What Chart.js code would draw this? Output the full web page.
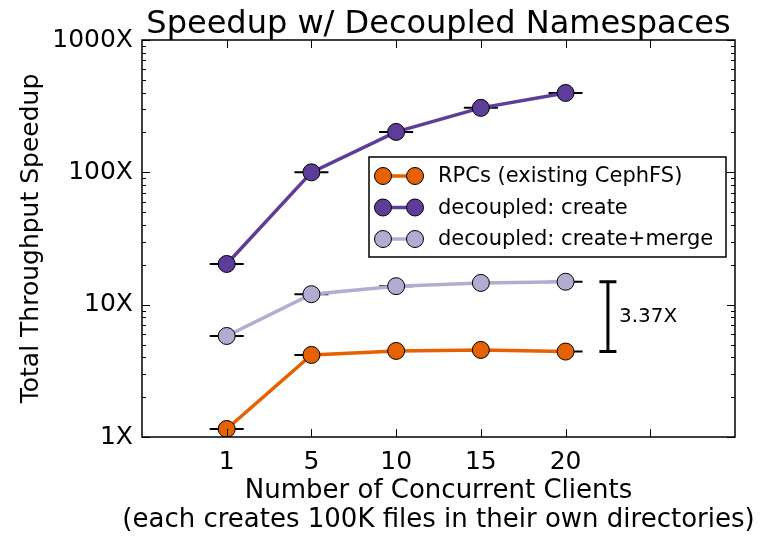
<!DOCTYPE html>
<html>
<head>
<meta charset="utf-8">
<script src="https://cdn.jsdelivr.net/npm/chart.js@4/dist/chart.umd.min.js"></script>
<style>
  html, body { margin: 0; padding: 0; background: #fff; }
  #wrap { width: 765px; height: 536px; }
</style>
</head>
<body>
<div id="wrap"><canvas id="chart"></canvas></div>
<script>
// clients (x categories) and speedups
const clients   = ['1', '5', '10', '15', '20'];
const rpcs      = [1.15, 4.17, 4.47, 4.55, 4.42];
const create    = [20.3, 100, 202, 307, 398];
const merge     = [5.8, 12.0, 13.8, 14.6, 14.9];
const yTicks    = [1, 10, 100, 1000];
const gapLabel  = '3.37X';
const titleText = 'Speedup w/ Decoupled Namespaces';
const xTitle    = 'Number of Concurrent Clients';
const xSubtitle = '(each creates 100K files in their own directories)';

const FONT = "'DejaVu Sans', sans-serif";
const toPts = arr => arr.map((v, i) => ({ x: i, y: v }));

function series(label, data, color) {
  return {
    label, data: toPts(data),
    borderColor: color, backgroundColor: color,
    borderWidth: 3.5,
    pointRadius: 8.5, pointHoverRadius: 8.5,
    pointBackgroundColor: color, pointBorderColor: '#000', pointBorderWidth: 1,
    tension: 0
  };
}

// horizontal caps behind every point (error bar caps)
const capsPlugin = {
  id: 'caps',
  beforeDatasetsDraw(chart) {
    const { ctx } = chart;
    ctx.save();
    ctx.strokeStyle = '#000';
    ctx.lineWidth = 2;
    chart.data.datasets.forEach((ds, di) => {
      chart.getDatasetMeta(di).data.forEach(pt => {
        ctx.beginPath();
        ctx.moveTo(pt.x - 17, pt.y);
        ctx.lineTo(pt.x + 17, pt.y);
        ctx.stroke();
      });
    });
    ctx.restore();
  }
};

// titles, frame, inward ticks, legend, gap bracket
const decorPlugin = {
  id: 'decor',
  afterDraw(chart) {
    const { ctx, chartArea: a, scales: { x, y } } = chart;
    const cx = (a.left + a.right) / 2;
    ctx.save();

    ctx.fillStyle = '#000';
    ctx.textAlign = 'center';
    ctx.textBaseline = 'alphabetic';
    ctx.font = '32px ' + FONT;
    ctx.fillText(titleText, cx, 33);
    ctx.font = '26px ' + FONT;
    ctx.fillText(xTitle, cx, 498);
    ctx.fillText(xSubtitle, cx, 527);

    ctx.strokeStyle = '#000';
    ctx.lineWidth = 1.5;
    ctx.strokeRect(a.left, a.top, a.right - a.left, a.bottom - a.top);

    ctx.lineWidth = 1;
    // y ticks, major + minor, both sides
    for (let d = 1; d <= 1000; d *= 10) {
      for (let m = 1; m <= 9; m++) {
        const v = d * m;
        if (v > 1000) break;
        const py = Math.round(y.getPixelForValue(v)) + 0.5;
        const len = m === 1 ? 8 : 4;
        ctx.beginPath();
        ctx.moveTo(a.left, py); ctx.lineTo(a.left + len, py);
        ctx.moveTo(a.right, py); ctx.lineTo(a.right - len, py);
        ctx.stroke();
      }
    }
    // x ticks top + bottom
    for (let i = 0; i <= clients.length; i++) {
      const px = Math.round(x.getPixelForValue(i)) + 0.5;
      ctx.beginPath();
      ctx.moveTo(px, a.bottom); ctx.lineTo(px, a.bottom - 8);
      ctx.moveTo(px, a.top); ctx.lineTo(px, a.top + 8);
      ctx.stroke();
    }

    // gap bracket between last merge point and last rpc point
    const last = clients.length - 1;
    const bx = x.getPixelForValue(last + 0.5);
    const y1 = y.getPixelForValue(merge[last]);
    const y2 = y.getPixelForValue(rpcs[last]);
    ctx.lineWidth = 3;
    ctx.beginPath();
    ctx.moveTo(bx, y1); ctx.lineTo(bx, y2);
    ctx.moveTo(bx - 8.5, y1); ctx.lineTo(bx + 8.5, y1);
    ctx.moveTo(bx - 8.5, y2); ctx.lineTo(bx + 8.5, y2);
    ctx.stroke();
    ctx.fillStyle = '#000';
    ctx.font = '20px ' + FONT;
    ctx.textBaseline = 'middle';
    ctx.textAlign = 'left';
    ctx.fillText(gapLabel, bx + 11, (y1 + y2) / 2);

    // legend box
    const lx = 369, ly = 157, lw = 357, lh = 100;
    ctx.fillStyle = '#fff';
    ctx.fillRect(lx, ly, lw, lh);
    ctx.lineWidth = 1.5;
    ctx.strokeRect(lx, ly, lw, lh);
    ctx.font = '21px ' + FONT;
    chart.data.datasets.forEach((ds, i) => {
      const ry = ly + 19 + i * 31.5;
      ctx.strokeStyle = ds.borderColor;
      ctx.lineWidth = 3.5;
      ctx.beginPath();
      ctx.moveTo(383, ry); ctx.lineTo(415, ry);
      ctx.stroke();
      [383, 415].forEach(mx => {
        ctx.beginPath();
        ctx.arc(mx, ry, 8.5, 0, Math.PI * 2);
        ctx.fillStyle = ds.backgroundColor;
        ctx.fill();
        ctx.strokeStyle = '#000';
        ctx.lineWidth = 1;
        ctx.stroke();
      });
      ctx.fillStyle = '#000';
      ctx.fillText(ds.label, 438, ry + 1);
    });
    ctx.restore();
  }
};

new Chart(document.getElementById('chart'), {
  type: 'line',
  data: {
    datasets: [
      series('RPCs (existing CephFS)', rpcs, '#e66101'),
      series('decoupled: create', create, '#5e3c99'),
      series('decoupled: create+merge', merge, '#b2abd2')
    ]
  },
  options: {
    responsive: true,
    maintainAspectRatio: false,
    animation: false,
    layout: { padding: { left: 0, right: 30, top: 40, bottom: 0 } },
    plugins: {
      legend: { display: false },
      tooltip: { enabled: false },
      title: { display: false }
    },
    scales: {
      x: {
        type: 'linear',
        min: -1, max: clients.length + 1,
        grid: { display: false, drawTicks: false },
        border: { display: false },
        afterBuildTicks: s => { s.ticks = clients.map((c, i) => ({ value: i })).concat([{ value: clients.length }]); },
        afterFit: s => { s.height = 99; },
        ticks: {
          color: '#000', padding: 10, maxRotation: 0, autoSkip: false,
          font: { family: FONT, size: 25 },
          callback: v => clients[v] !== undefined ? clients[v] : ''
        }
      },
      y: {
        type: 'logarithmic',
        min: 1, max: 1000,
        grid: { display: false, drawTicks: false },
        border: { display: false },
        afterBuildTicks: s => { s.ticks = yTicks.map(v => ({ value: v, major: true })); },
        afterFit: s => { s.width = 142; },
        ticks: {
          color: '#000', padding: 9, autoSkip: false,
          font: { family: FONT, size: 25 },
          callback: v => v + 'X'
        },
        title: {
          display: true,
          text: 'Total Throughput Speedup',
          color: '#000',
          font: { family: FONT, size: 25 },
          padding: { top: 16, bottom: 0 }
        }
      }
    }
  },
  plugins: [capsPlugin, decorPlugin]
});
</script>
</body>
</html>
